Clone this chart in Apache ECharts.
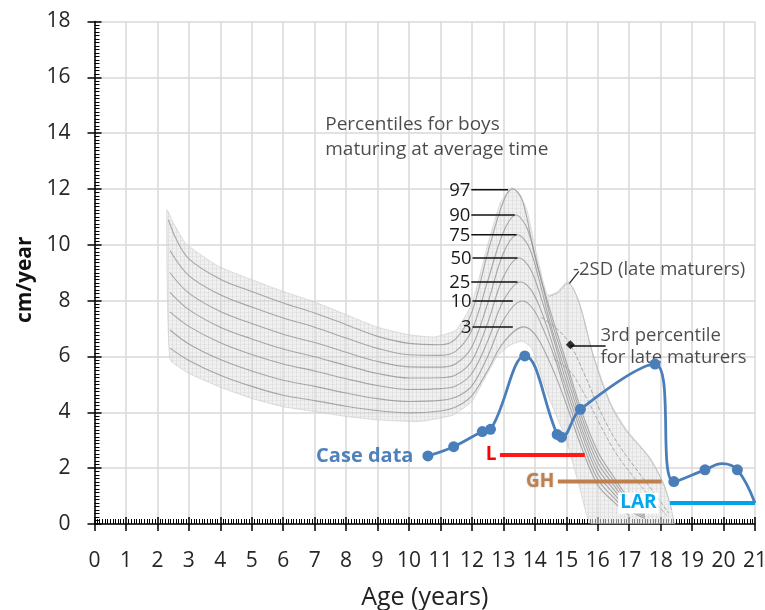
<!DOCTYPE html>
<html>
<head>
<meta charset="utf-8">
<script src="https://cdn.jsdelivr.net/npm/echarts@6/dist/echarts.min.js"></script>
<style>html,body{margin:0;padding:0;background:#fff}#c{width:765px;height:610px}</style>
</head>
<body>
<div id="c"></div>
<script>
// ---------------- DATA ----------------
const xMin = 0, xMax = 21, yMin = 0, yMax = 18;

// Case data (age in years, growth velocity cm/year); caseMarked = 1 where a dot is drawn
const caseAge = [10.6, 11.42, 12.33, 12.59, 13.68, 14.71, 14.85, 15.45, 17.82, 18.42, 19.41, 19.95, 20.44, 21.0];
const caseVel = [2.44, 2.77, 3.31, 3.39, 6.02, 3.21, 3.11, 4.11, 5.73, 1.52, 1.94, 2.16, 1.94, 0.75];
const caseMarked = [1, 1, 1, 1, 1, 1, 1, 1, 1, 1, 1, 0, 1, 0];

// Treatment bars
const barNames = ['L', 'GH', 'LAR'];
const barStart = [12.89, 14.73, 18.3];
const barEnd = [15.59, 18.03, 21.0];
const barLevel = [2.47, 1.52, 0.75];

// Percentile labels for boys maturing at average time
const pctLabels = ['97', '90', '75', '50', '25', '10', '3'];
const pctLabelY = [11.97, 11.07, 10.36, 9.53, 8.67, 7.99, 7.06];
const pctTickStart = [11.98, 11.98, 11.98, 12.02, 11.98, 12.02, 12.02];
const pctTickEnd = [13.15, 13.36, 13.42, 13.45, 13.45, 13.30, 13.30];

// Reference band envelope (scanned chart)
const bandTop = [[2.3,11.25],[2.5,10.8],[2.9,10.05],[3.5,9.55],[4,9.2],[5,8.75],[6,8.33],[7,7.95],[8,7.5],[9,7.05],[10,6.78],[10.8,6.7],[11.5,6.95],[12,7.9],[12.5,10.0],[12.9,11.5],[13.25,12.05],[13.5,11.85],[13.75,11.25],[14.05,9.7],[14.4,8.2],[14.7,8.3],[15.05,8.7],[15.4,8.0],[15.85,6.1],[16.4,4.35],[16.9,3.4],[17.65,2.4],[18.1,1.45],[18.35,0.5],[18.45,0]];
const bandBottom = [[2.4,5.9],[3,5.4],[4,4.9],[5,4.5],[6,4.2],[7,4.03],[8,3.85],[9,3.73],[10.3,3.67],[11.4,3.9],[12,4.4],[12.45,5.3],[12.8,6.0],[13.2,6.4],[13.6,6.55],[13.9,6.3],[14.35,4.8],[15,3.0],[15.45,1.2],[15.8,0],[18.45,0]];

// Percentile curves (average maturers)
const p97 = [[2.35,10.9],[2.6,10.2],[3,9.5],[4,8.77],[5,8.33],[6,7.92],[7,7.56],[8,7.14],[9,6.72],[10,6.47],[11,6.42],[11.5,6.65],[12,7.6],[12.5,9.7],[13,11.55],[13.3,12.0],[13.6,11.6],[14,9.6],[14.5,7.6],[15,5.8],[15.5,4.0],[16,2.6],[16.5,1.7],[17,0.9],[17.5,0.4]];
const p90 = [[2.4,9.8],[3,8.9],[4,8.21],[5,7.77],[6,7.38],[7,7.05],[8,6.66],[9,6.29],[10,6.06],[11,6.04],[11.5,6.2],[12,6.95],[12.5,8.7],[13,10.45],[13.4,11.07],[13.75,10.6],[14.1,9.2],[14.5,7.4],[15,5.6],[15.5,3.8],[16,2.4],[16.5,1.55],[17,0.8],[17.5,0.35]];
const p75 = [[2.4,9.0],[3,8.27],[4,7.61],[5,7.18],[6,6.8],[7,6.5],[8,6.15],[9,5.82],[10,5.63],[11,5.62],[11.5,5.75],[12,6.35],[12.5,7.9],[13,9.7],[13.45,10.36],[13.8,9.95],[14.1,8.9],[14.5,7.15],[15,5.35],[15.5,3.6],[16,2.2],[16.5,1.4],[17,0.7],[17.5,0.3]];
const p50 = [[2.4,8.3],[3,7.68],[4,7.05],[5,6.63],[6,6.27],[7,5.99],[8,5.68],[9,5.39],[10,5.23],[11,5.24],[11.5,5.35],[12,5.85],[12.5,7.2],[13,8.85],[13.5,9.53],[13.85,9.15],[14.2,8.1],[14.6,6.6],[15,5.1],[15.5,3.4],[16,2.0],[16.5,1.25],[17,0.6],[17.5,0.25]];
const p25 = [[2.4,7.6],[3,7.08],[4,6.49],[5,6.07],[6,5.73],[7,5.48],[8,5.2],[9,4.96],[10,4.82],[11,4.85],[11.5,4.95],[12,5.4],[12.5,6.55],[13,8.0],[13.55,8.67],[13.9,8.35],[14.25,7.5],[14.6,6.3],[15,4.85],[15.5,3.2],[16,1.8],[16.5,1.1],[17,0.5],[17.5,0.2]];
const p10 = [[2.4,6.95],[3,6.45],[4,5.89],[5,5.48],[6,5.15],[7,4.93],[8,4.69],[9,4.49],[10,4.39],[11,4.43],[11.5,4.55],[12,4.95],[12.5,6.0],[13,7.3],[13.6,7.99],[13.95,7.7],[14.3,6.9],[14.65,5.9],[15,4.6],[15.5,2.95],[16,1.6],[16.5,0.95],[17,0.4]];
const p3 = [[2.4,6.3],[3,5.86],[4,5.33],[5,4.93],[6,4.61],[7,4.42],[8,4.22],[9,4.06],[10,3.98],[11,4.05],[11.5,4.2],[12,4.6],[12.5,5.5],[13,6.5],[13.65,7.06],[14.0,6.8],[14.35,6.1],[14.7,5.2],[15,4.3],[15.5,2.7],[16,1.4],[16.5,0.8],[17,0.3]];

// Late maturer curves
const lateTop = [[14.45,8.15],[14.75,8.3],[15.05,8.62],[15.4,7.95],[15.85,6.05],[16.4,4.3],[16.9,3.35],[17.65,2.35],[18.1,1.4],[18.35,0.5]];
const late3rd = [[14.2,7.4],[14.7,7.0],[15.13,6.42],[15.6,5.3],[16.1,4.0],[16.6,2.95],[17.2,2.0],[17.8,1.1],[18.25,0.4]];
const lateMid = [[14.6,5.9],[15.1,5.5],[15.6,4.6],[16.1,3.5],[16.6,2.5],[17.2,1.6],[17.8,0.8],[18.2,0.3]];

// Annotations
const annotText = ['Percentiles for boys\nmaturing at average time', '-2SD (late maturers)', '3rd percentile\nfor late maturers'];
const annotX = [7.32, 15.2, 16.07];
const annotY = [13.85, 9.1, 6.34];
const sdLeader = [[15.1, 8.62], [15.4, 9.05]];
const late3Marker = [[15.13, 6.42]];
const late3Leader = [[15.13, 6.38], [16.25, 6.38]];

// ---------------- STYLE ----------------
const FONT = '"Open Sans", "DejaVu Sans", sans-serif';
const caseColor = '#4a7ebb';
const barColors = ['#ff1a1a', '#c0804e', '#00a2e8'];
const barLabelColors = ['#ff0000', '#c0804e', '#00a8ee'];
const pctColor = '#959595';

// band texture pattern
function makePattern() {
  const c = document.createElement('canvas');
  c.width = 4; c.height = 4;
  const g = c.getContext('2d');
  g.fillStyle = 'rgba(226,228,226,0.55)';
  g.fillRect(0, 0, 4, 4);
  g.fillStyle = 'rgba(165,165,165,0.18)';
  g.fillRect(0, 0, 1, 4);
  g.fillStyle = 'rgba(175,175,175,0.12)';
  g.fillRect(0, 0, 4, 1);
  return { image: c, repeat: 'repeat' };
}
const bandFill = makePattern();

const chart = echarts.init(document.getElementById('c'));

function axisCommon(isX) {
  return { type: 'value', min: isX ? xMin : yMin, max: isX ? xMax : yMax, interval: isX ? 1 : 2 };
}

function pctSeries(name, data) {
  return {
    type: 'line', name: name, data: data, smooth: 0.35, symbol: 'none', z: 3,
    lineStyle: { color: pctColor, width: 1.1, opacity: 0.8 },
    silent: true, animation: false
  };
}

const series = [];

// band polygon
series.push({
  type: 'custom', name: 'band', z: 2, silent: true, animation: false, clip: true,
  data: [[bandTop[0][0], bandTop[0][1]]],
  renderItem: function (params, api) {
    const pts = bandTop.map(p => api.coord(p)).concat(bandBottom.slice().reverse().map(p => api.coord(p)));
    return { type: 'polygon', shape: { points: pts, smooth: 0.15 }, style: { fill: bandFill, stroke: 'rgba(195,195,195,0.5)', lineWidth: 1 } };
  }
});

[['p97', p97], ['p90', p90], ['p75', p75], ['p50', p50], ['p25', p25], ['p10', p10], ['p3', p3]].forEach(a => series.push(pctSeries(a[0], a[1])));
series.push(Object.assign(pctSeries('lateTop', lateTop), { lineStyle: { color: '#b0b0b0', width: 1, opacity: 0.7 } }));
series.push(Object.assign(pctSeries('late3rd', late3rd), { lineStyle: { color: pctColor, width: 1, opacity: 0.8, type: 'dashed' } }));
series.push(Object.assign(pctSeries('lateMid', lateMid), { lineStyle: { color: pctColor, width: 1, opacity: 0.75, type: 'dashed' } }));

// percentile label ticks
series.push({
  type: 'custom', name: 'pctLabels', z: 6, silent: true, animation: false,
  encode: { x: [0, 1], y: 2 },
  data: pctLabels.map((t, i) => [pctTickStart[i], pctTickEnd[i], pctLabelY[i]]),
  renderItem: function (params, api) {
    const y = api.value(2);
    const a = api.coord([api.value(0), y]);
    const b = api.coord([api.value(1), y]);
    return {
      type: 'group', children: [
        { type: 'line', shape: { x1: a[0], y1: a[1], x2: b[0], y2: b[1] }, style: { stroke: '#111', lineWidth: 1.5 } },
        { type: 'text', x: a[0] - 1, y: a[1] + 1, style: { text: pctLabels[params.dataIndex], align: 'right', verticalAlign: 'middle', fontSize: 18.5, fontFamily: FONT, fill: '#1a1a1a' } }
      ]
    };
  }
});

// annotations
series.push({
  type: 'scatter', name: 'annotations', z: 7, silent: true, animation: false,
  symbolSize: 1, itemStyle: { color: 'rgba(0,0,0,0)' },
  data: annotText.map((t, i) => ({
    value: [annotX[i], annotY[i]],
    label: {
      show: true, position: 'right', distance: 0, formatter: t, align: 'left',
      fontFamily: FONT, color: '#1e1e1e',
      fontSize: i === 0 ? 19 : 18.5, lineHeight: i === 0 ? 25 : 22
    }
  }))
});
series.push({
  type: 'line', name: 'sdLeader', data: sdLeader, symbol: 'none', z: 7, silent: true, animation: false,
  lineStyle: { color: '#222', width: 1.2 }
});
series.push({
  type: 'line', name: 'late3Leader', data: late3Leader, symbol: 'none', z: 7, silent: true, animation: false,
  lineStyle: { color: '#111', width: 1.5 }
});
series.push({
  type: 'scatter', name: 'late3Marker', data: late3Marker, symbol: 'diamond', symbolSize: 9, z: 8,
  itemStyle: { color: '#000' }, silent: true, animation: false
});

// treatment bars
barNames.forEach((n, i) => {
  series.push({
    type: 'line', name: n, z: 8, silent: true, animation: false,
    symbol: 'circle', symbolSize: 1, showSymbol: true,
    itemStyle: { color: 'rgba(0,0,0,0)' },
    lineStyle: { color: barColors[i], width: 4 },
    data: [
      {
        value: [barStart[i], barLevel[i]],
        label: {
          show: true, position: 'left', distance: n === 'LAR' ? 11 : 3, formatter: n,
          fontFamily: FONT, fontSize: 19, fontWeight: 'bold', color: barLabelColors[i],
          backgroundColor: n === 'LAR' ? '#fff' : 'transparent', padding: n === 'LAR' ? [1, 2, 1, 2] : 0,
          textShadowColor: n === 'GH' ? 'rgba(0,0,0,0.3)' : 'transparent', textShadowBlur: n === 'GH' ? 2 : 0
        }
      },
      { value: [barEnd[i], barLevel[i]], label: { show: false } }
    ]
  });
});

// case data
series.push({
  type: 'line', name: 'Case data', z: 10, smooth: 0.4, animation: false,
  symbol: 'circle', symbolSize: 11,
  lineStyle: { color: caseColor, width: 2.8 },
  itemStyle: { color: caseColor },
  data: caseAge.map((a, i) => {
    const item = { value: [a, caseVel[i]] };
    if (i === 0) item.label = { show: true, position: 'left', distance: 9, formatter: 'Case data', fontFamily: FONT, fontSize: 20, fontWeight: 'bold', color: '#4f81bd' };
    if (!caseMarked[i]) item.symbol = 'none';
    return item;
  })
});

const option = {
  backgroundColor: '#fff',
  animation: false,
  grid: { left: 94.5, right: 10, top: 21.5, bottom: 86, containLabel: false, outerBoundsMode: 'none' },
  xAxis: [
    Object.assign(axisCommon(true), {
      position: 'bottom',
      name: 'Age (years)', nameLocation: 'middle', nameGap: 61,
      nameTextStyle: { fontFamily: FONT, fontSize: 25, color: '#222' },
      axisLine: { lineStyle: { color: '#000', width: 1.5 } },
      axisTick: { inside: true, length: 7, lineStyle: { color: '#000', width: 1.5 } },
      minorTick: { show: true, splitNumber: 12, length: 5, lineStyle: { color: '#000', width: 1 } },
      axisLabel: { fontFamily: FONT, fontSize: 21, color: '#262626', margin: 27 },
      splitLine: { show: true, lineStyle: { color: '#d9d9d9', width: 1.5 } }
    }),
    Object.assign(axisCommon(true), {
      position: 'bottom',
      axisLine: { show: false },
      axisTick: { show: true, inside: false, length: 7, lineStyle: { color: '#000', width: 1.5 } },
      axisLabel: { show: false }, splitLine: { show: false }
    })
  ],
  yAxis: [
    Object.assign(axisCommon(false), {
      position: 'left',
      name: 'cm/year', nameLocation: 'middle', nameGap: 57,
      nameTextStyle: { fontFamily: FONT, fontSize: 21, fontWeight: 'bold', color: '#111', padding: [0, 14, 0, 0] },
      axisLine: { show: true, lineStyle: { color: '#000', width: 1.5 } },
      axisTick: { show: true, inside: true, length: 7, lineStyle: { color: '#000', width: 1.5 } },
      minorTick: { show: true, splitNumber: 16, length: 5, lineStyle: { color: '#000', width: 1 } },
      axisLabel: { fontFamily: FONT, fontSize: 21, color: '#262626', margin: 24 },
      splitLine: { show: true, lineStyle: { color: '#d9d9d9', width: 1.5 } }
    }),
    Object.assign(axisCommon(false), {
      position: 'left',
      axisLine: { show: false },
      axisTick: { show: true, inside: false, length: 7, lineStyle: { color: '#000', width: 1.5 } },
      axisLabel: { show: false }, splitLine: { show: false }
    })
  ],
  series: series
};
chart.setOption(option);
</script>
</body>
</html>
